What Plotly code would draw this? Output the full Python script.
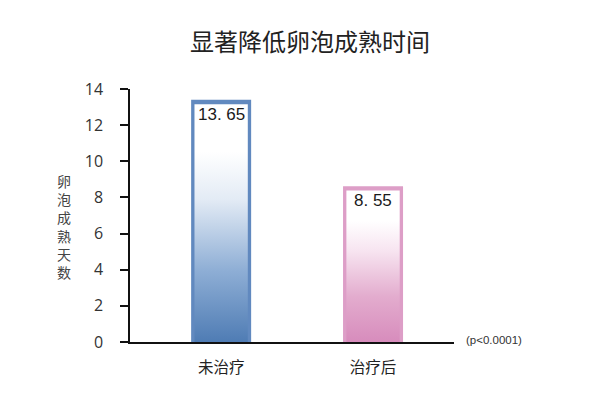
import plotly.graph_objects as go

categories = ["未治疗", "治疗后"]
bar_values = [13.4, 8.62]
value_labels = ["13. 65", "8. 55"]
edge_colors = ["#6189bf", "#dd9ec7"]
gradient_scales = [
    [[0, "#4f7cb4"], [0.3, "#8eaed5"], [0.6, "#e3ebf5"], [0.8, "#ffffff"], [1, "#ffffff"]],
    [[0, "#d78cbc"], [0.3, "#e3acce"], [0.6, "#f7e4f0"], [0.8, "#ffffff"], [1, "#ffffff"]],
]
y_ticks = [0, 2, 4, 6, 8, 10, 12, 14]
title_text = "显著降低卵泡成熟时间"
y_title = "卵泡成熟天数"
p_note = "(p<0.0001)"

bar_width = 0.395
inset_x = 0.022
inset_top = 0.24

fig = go.Figure()
fig.add_trace(go.Bar(
    x=list(range(len(categories))), y=bar_values, width=bar_width,
    marker=dict(color=edge_colors, line=dict(width=0)),
    hoverinfo="skip", showlegend=False,
))
for i, v in enumerate(bar_values):
    x0 = i - bar_width / 2 + inset_x
    x1 = i + bar_width / 2 - inset_x
    top = v - inset_top
    fig.add_trace(go.Scatter(
        x=[x0, x1, x1, x0, x0], y=[0, 0, top, top, 0],
        mode="lines", line=dict(width=0), fill="toself",
        fillgradient=dict(type="vertical", colorscale=gradient_scales[i]),
        hoverinfo="skip", showlegend=False,
    ))
    fig.add_annotation(
        x=i, y=v, text=value_labels[i], showarrow=False, yanchor="top", yshift=-3,
        font=dict(family="Liberation Sans, Arial", size=17, color="#1a1a1a"),
    )

fig.add_annotation(
    xref="paper", yref="paper", x=0.556, y=1, yshift=49, text=title_text,
    showarrow=False, xanchor="center", yanchor="middle",
    font=dict(family="Noto Sans CJK SC", size=24, color="#222222"),
)
fig.add_annotation(
    xref="paper", yref="paper", x=0, xshift=-66, y=0, yshift=342 - 226,
    text="<br>".join(y_title), showarrow=False, xanchor="center", yanchor="middle",
    font=dict(family="Noto Sans CJK SC", size=14, color="#444444"),
)
fig.add_annotation(
    xref="paper", yref="y", x=1, xshift=10, y=0, yshift=2, text=p_note,
    showarrow=False, xanchor="left", yanchor="middle",
    font=dict(family="Liberation Sans, Arial", size=11.5, color="#333333"),
)

fig.update_layout(
    width=605, height=399,
    margin=dict(l=130, r=151, t=89, b=57),
    paper_bgcolor="white", plot_bgcolor="white",
    xaxis=dict(
        range=[-0.6, 1.533], tickvals=list(range(len(categories))), ticktext=categories,
        showline=True, linecolor="#111111", linewidth=2, ticks="", showgrid=False,
        zeroline=False, ticklabelstandoff=10,
        tickfont=dict(family="Noto Sans CJK SC", size=15.5, color="#222222"),
    ),
    yaxis=dict(
        range=[0, 14], tickvals=y_ticks, showline=True, linecolor="#111111", linewidth=1.5,
        ticks="outside", ticklen=8, tickcolor="#111111", tickwidth=1.5,
        showgrid=False, zeroline=False, ticklabelstandoff=14,
        tickfont=dict(family="Open Sans", size=16, color="#333333"),
    ),
)
fig.write_html("out.html")
